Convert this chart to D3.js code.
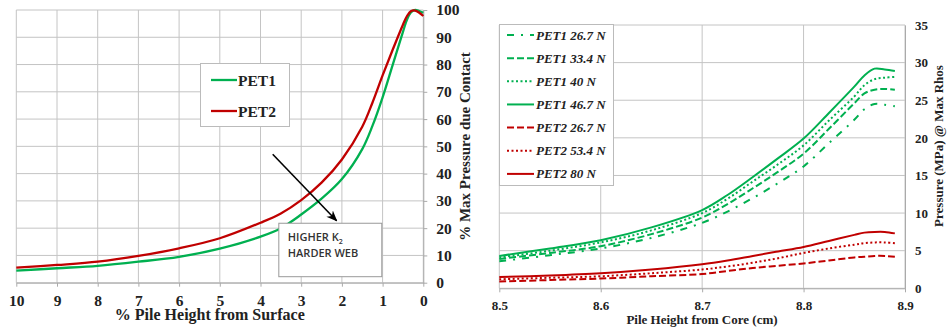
<!DOCTYPE html>
<html>
<head>
<meta charset="utf-8">
<script src="https://cdn.jsdelivr.net/npm/d3@7"></script>
<style>
  body { margin: 0; background: #fff; }
</style>
</head>
<body>
<svg id="chart" width="948" height="331"></svg>
<script>
// left chart data
var leftX = [10, 9, 8, 7, 6, 5, 4, 3.5, 3, 2.5, 2, 1.5, 1.25, 1, 0.75, 0.5, 0.4, 0.3, 0.2, 0.1, 0];
var pet1 = [4.4, 5.3, 6.2, 7.7, 9.5, 12.5, 16.9, 20.0, 25.0, 30.8, 38.0, 49.0, 57.5, 68, 80, 92, 96.5, 99.2, 100, 99.6, 99];
var pet2 = [5.5, 6.5, 7.7, 9.8, 12.6, 16.3, 22, 25.4, 30.3, 36.7, 45.2, 57.2, 66, 76, 85.5, 94.6, 97.8, 99.6, 99.8, 99, 97.8];
var leftXTicks = [10, 9, 8, 7, 6, 5, 4, 3, 2, 1, 0];
var leftYTicks = [0, 10, 20, 30, 40, 50, 60, 70, 80, 90, 100];

// right chart data
var rightX = [8.5, 8.55, 8.6, 8.65, 8.7, 8.725, 8.75, 8.775, 8.8, 8.825, 8.85, 8.86, 8.87, 8.88, 8.89];
var p1_267 = [3.6, 4.4, 5.3, 6.7, 8.7, 10.2, 12.0, 14.0, 16.2, 19.3, 22.4, 23.8, 24.5, 24.4, 24.2];
var p1_334 = [3.9, 4.7, 5.6, 7.2, 9.4, 11.2, 13.3, 15.5, 17.9, 21.2, 24.6, 25.9, 26.4, 26.5, 26.4];
var p1_40 = [4.1, 5.0, 6.1, 7.7, 10.0, 11.9, 14.2, 16.5, 19.0, 22.3, 25.5, 27.0, 27.8, 28.0, 28.1];
var p1_467 = [4.3, 5.3, 6.4, 8.1, 10.4, 12.4, 14.8, 17.3, 19.9, 23.3, 26.8, 28.3, 29.2, 29.1, 28.9];
var p2_267 = [0.9, 1.1, 1.3, 1.6, 1.9, 2.3, 2.7, 3.0, 3.3, 3.7, 4.1, 4.2, 4.3, 4.3, 4.2];
var p2_534 = [1.2, 1.4, 1.6, 2.0, 2.5, 2.9, 3.4, 4.0, 4.7, 5.3, 5.8, 6.0, 6.1, 6.1, 6.0];
var p2_80 = [1.5, 1.7, 2.0, 2.5, 3.2, 3.7, 4.3, 4.9, 5.5, 6.3, 7.1, 7.4, 7.5, 7.5, 7.3];
var rightXTicks = [8.5, 8.6, 8.7, 8.8, 8.9];
var rightYTicks = [0, 5, 10, 15, 20, 25, 30, 35];

var GREEN = "#00b050", RED = "#c00000", GRID = "#c4c4c4";
var SERIF = "'Liberation Serif', 'Times New Roman', serif";
var SANS = "'Open Sans', 'Liberation Sans', sans-serif";

function serif(sel, size) {
  return sel.attr("font-family", null)
    .style("font-family", SERIF).style("font-weight", "bold")
    .style("font-size", size + "px").style("fill", "#222");
}

var svg = d3.select("#chart");

// ---------- left chart ----------
var xL = d3.scaleLinear().domain([10, 0]).range([16.3, 423.3]);
var yL = d3.scaleLinear().domain([0, 100]).range([282.7, 10]);

var gl = svg.append("g");
gl.selectAll("line.vg").data(leftXTicks).enter().append("line")
  .attr("x1", d => xL(d)).attr("x2", d => xL(d))
  .attr("y1", yL(0)).attr("y2", yL(100))
  .attr("stroke", GRID);
gl.selectAll("line.hg").data(leftYTicks).enter().append("line")
  .attr("x1", xL(10)).attr("x2", xL(0))
  .attr("y1", d => yL(d)).attr("y2", d => yL(d))
  .attr("stroke", GRID);

var axL = gl.append("g").attr("transform", "translate(0," + yL(0) + ")")
  .call(d3.axisBottom(xL).tickValues(leftXTicks).tickSize(4).tickSizeOuter(0).tickFormat(d3.format("d")));
axL.attr("font-family", null);
axL.select(".domain").attr("stroke", "#aaa");
axL.selectAll(".tick line").attr("stroke", "#aaa");
serif(axL.selectAll(".tick text").attr("dy", null).attr("y", 23.5), 15.5);

var ayL = gl.append("g").attr("transform", "translate(" + xL(0) + ",0)")
  .call(d3.axisRight(yL).tickValues(leftYTicks).tickSize(4).tickSizeOuter(0));
ayL.attr("font-family", null);
ayL.select(".domain").attr("stroke", "#aaa");
ayL.selectAll(".tick line").attr("stroke", "#aaa");
serif(ayL.selectAll(".tick text").attr("x", 13), 15.5);

serif(gl.append("text").attr("x", xL(5) - 10).attr("y", 320).attr("text-anchor", "middle"), 16)
  .text("% Pile Height from Surface");
serif(gl.append("text").attr("transform", "translate(470,146.5) rotate(-90)").attr("text-anchor", "middle"), 15)
  .text("% Max Pressure due Contact");

var lineL = d3.line().x((d, i) => xL(leftX[i])).y(d => yL(d)).curve(d3.curveCatmullRom.alpha(0.5));
gl.append("path").datum(pet1).attr("d", lineL).attr("fill", "none").attr("stroke", GREEN).attr("stroke-width", 2.3);
gl.append("path").datum(pet2).attr("d", lineL).attr("fill", "none").attr("stroke", RED).attr("stroke-width", 2.3);

// left legend
var legL = gl.append("g");
legL.append("rect").attr("x", 200.5).attr("y", 63.5).attr("width", 89).attr("height", 63)
  .attr("fill", "#fff").attr("stroke", "#bbb");
[["PET1", GREEN, 80], ["PET2", RED, 111]].forEach(function(e) {
  legL.append("line").attr("x1", 211).attr("x2", 237).attr("y1", e[2]).attr("y2", e[2])
    .attr("stroke", e[1]).attr("stroke-width", 2.3);
  serif(legL.append("text").attr("x", 238).attr("y", e[2] + 5.5), 15.5).text(e[0]);
});

// annotation
svg.append("defs").append("marker").attr("id", "arr")
  .attr("viewBox", "0 0 10 10").attr("refX", 9).attr("refY", 5)
  .attr("markerWidth", 7).attr("markerHeight", 7).attr("orient", "auto")
  .append("path").attr("d", "M0,1 L10,5 L0,9 L3,5 Z").attr("fill", "#000");
gl.append("line").attr("x1", xL(3.7)).attr("y1", yL(47.1)).attr("x2", xL(2.13)).attr("y2", yL(22.7))
  .attr("stroke", "#000").attr("stroke-width", 1.6).attr("marker-end", "url(#arr)");
gl.append("rect").attr("x", xL(3.55)).attr("y", yL(21.8)).attr("width", xL(1.02) - xL(3.55))
  .attr("height", yL(2.2) - yL(21.8)).attr("fill", "#fff").attr("stroke", "#999");
var ann = gl.append("text").attr("x", xL(3.55) + 9).attr("y", 241)
  .style("font-family", SANS).style("font-weight", "600")
  .style("font-size", "11px").style("fill", "#333");
ann.append("tspan").text("HIGHER K");
ann.append("tspan").attr("dy", 3).style("font-size", "7px").text("2");
gl.append("text").attr("x", xL(3.55) + 9).attr("y", 257)
  .style("font-family", SANS).style("font-weight", "600")
  .style("font-size", "11px").style("fill", "#333").text("HARDER WEB");

// ---------- right chart ----------
var xR = d3.scaleLinear().domain([8.5, 8.9]).range([499.3, 905]);
var yR = d3.scaleLinear().domain([0, 35]).range([288.3, 25]);

var gr = svg.append("g");
gr.selectAll("line.vg").data(rightXTicks).enter().append("line")
  .attr("x1", d => xR(d)).attr("x2", d => xR(d))
  .attr("y1", yR(0)).attr("y2", yR(35))
  .attr("stroke", GRID);
gr.selectAll("line.hg").data(rightYTicks).enter().append("line")
  .attr("x1", xR(8.5)).attr("x2", xR(8.9))
  .attr("y1", d => yR(d)).attr("y2", d => yR(d))
  .attr("stroke", GRID);

var axR = gr.append("g").attr("transform", "translate(0," + yR(0) + ")")
  .call(d3.axisBottom(xR).tickValues(rightXTicks).tickSize(4).tickSizeOuter(0).tickFormat(d3.format(".1f")));
axR.attr("font-family", null);
axR.select(".domain").attr("stroke", "#aaa");
axR.selectAll(".tick line").attr("stroke", "#aaa");
serif(axR.selectAll(".tick text").attr("dy", null).attr("y", 22), 13);

var ayR = gr.append("g").attr("transform", "translate(" + xR(8.9) + ",0)")
  .call(d3.axisRight(yR).tickValues(rightYTicks).tickSize(0).tickSizeOuter(0));
ayR.attr("font-family", null);
ayR.select(".domain").attr("stroke", "#aaa");
serif(ayR.selectAll(".tick text").attr("x", 10), 13);

serif(gr.append("text").attr("x", 702).attr("y", 324).attr("text-anchor", "middle"), 13)
  .text("Pile Height from Core (cm)");
serif(gr.append("text").attr("transform", "translate(943,146) rotate(-90)").attr("text-anchor", "middle"), 13)
  .text("Pressure (MPa) @ Max Rhos");

var rightSeries = [
  { name: "PET1 26.7 N", vals: p1_267, color: GREEN, dash: "7,7,2,7" },
  { name: "PET1 33.4 N", vals: p1_334, color: GREEN, dash: "7,3" },
  { name: "PET1 40 N", vals: p1_40, color: GREEN, dash: "2,2.5" },
  { name: "PET1 46.7 N", vals: p1_467, color: GREEN, dash: null },
  { name: "PET2 26.7 N", vals: p2_267, color: RED, dash: "7,3" },
  { name: "PET2 53.4 N", vals: p2_534, color: RED, dash: "2,2.5" },
  { name: "PET2 80 N", vals: p2_80, color: RED, dash: null }
];

var lineR = d3.line().x((d, i) => xR(rightX[i])).y(d => yR(d)).curve(d3.curveCatmullRom.alpha(0.5));
gr.selectAll("path.s").data(rightSeries).enter().append("path")
  .attr("d", d => lineR(d.vals)).attr("fill", "none")
  .attr("stroke", d => d.color).attr("stroke-width", 2)
  .attr("stroke-dasharray", d => d.dash);

// right legend
var legR = gr.append("g");
legR.append("rect").attr("x", 499.5).attr("y", 24.5).attr("width", 114).attr("height", 161)
  .attr("fill", "#fff").attr("stroke", "#bbb");
var legItem = legR.selectAll("g.it").data(rightSeries).enter().append("g")
  .attr("transform", (d, i) => "translate(0," + (35 + i * 23.15) + ")");
legItem.append("line").attr("x1", 507).attr("x2", 534).attr("y1", 0).attr("y2", 0)
  .attr("stroke", d => d.color).attr("stroke-width", 2).attr("stroke-dasharray", d => d.dash);
serif(legItem.append("text").attr("x", 536).attr("y", 4.5), 13)
  .style("font-style", "italic").text(d => d.name);
</script>
</body>
</html>
